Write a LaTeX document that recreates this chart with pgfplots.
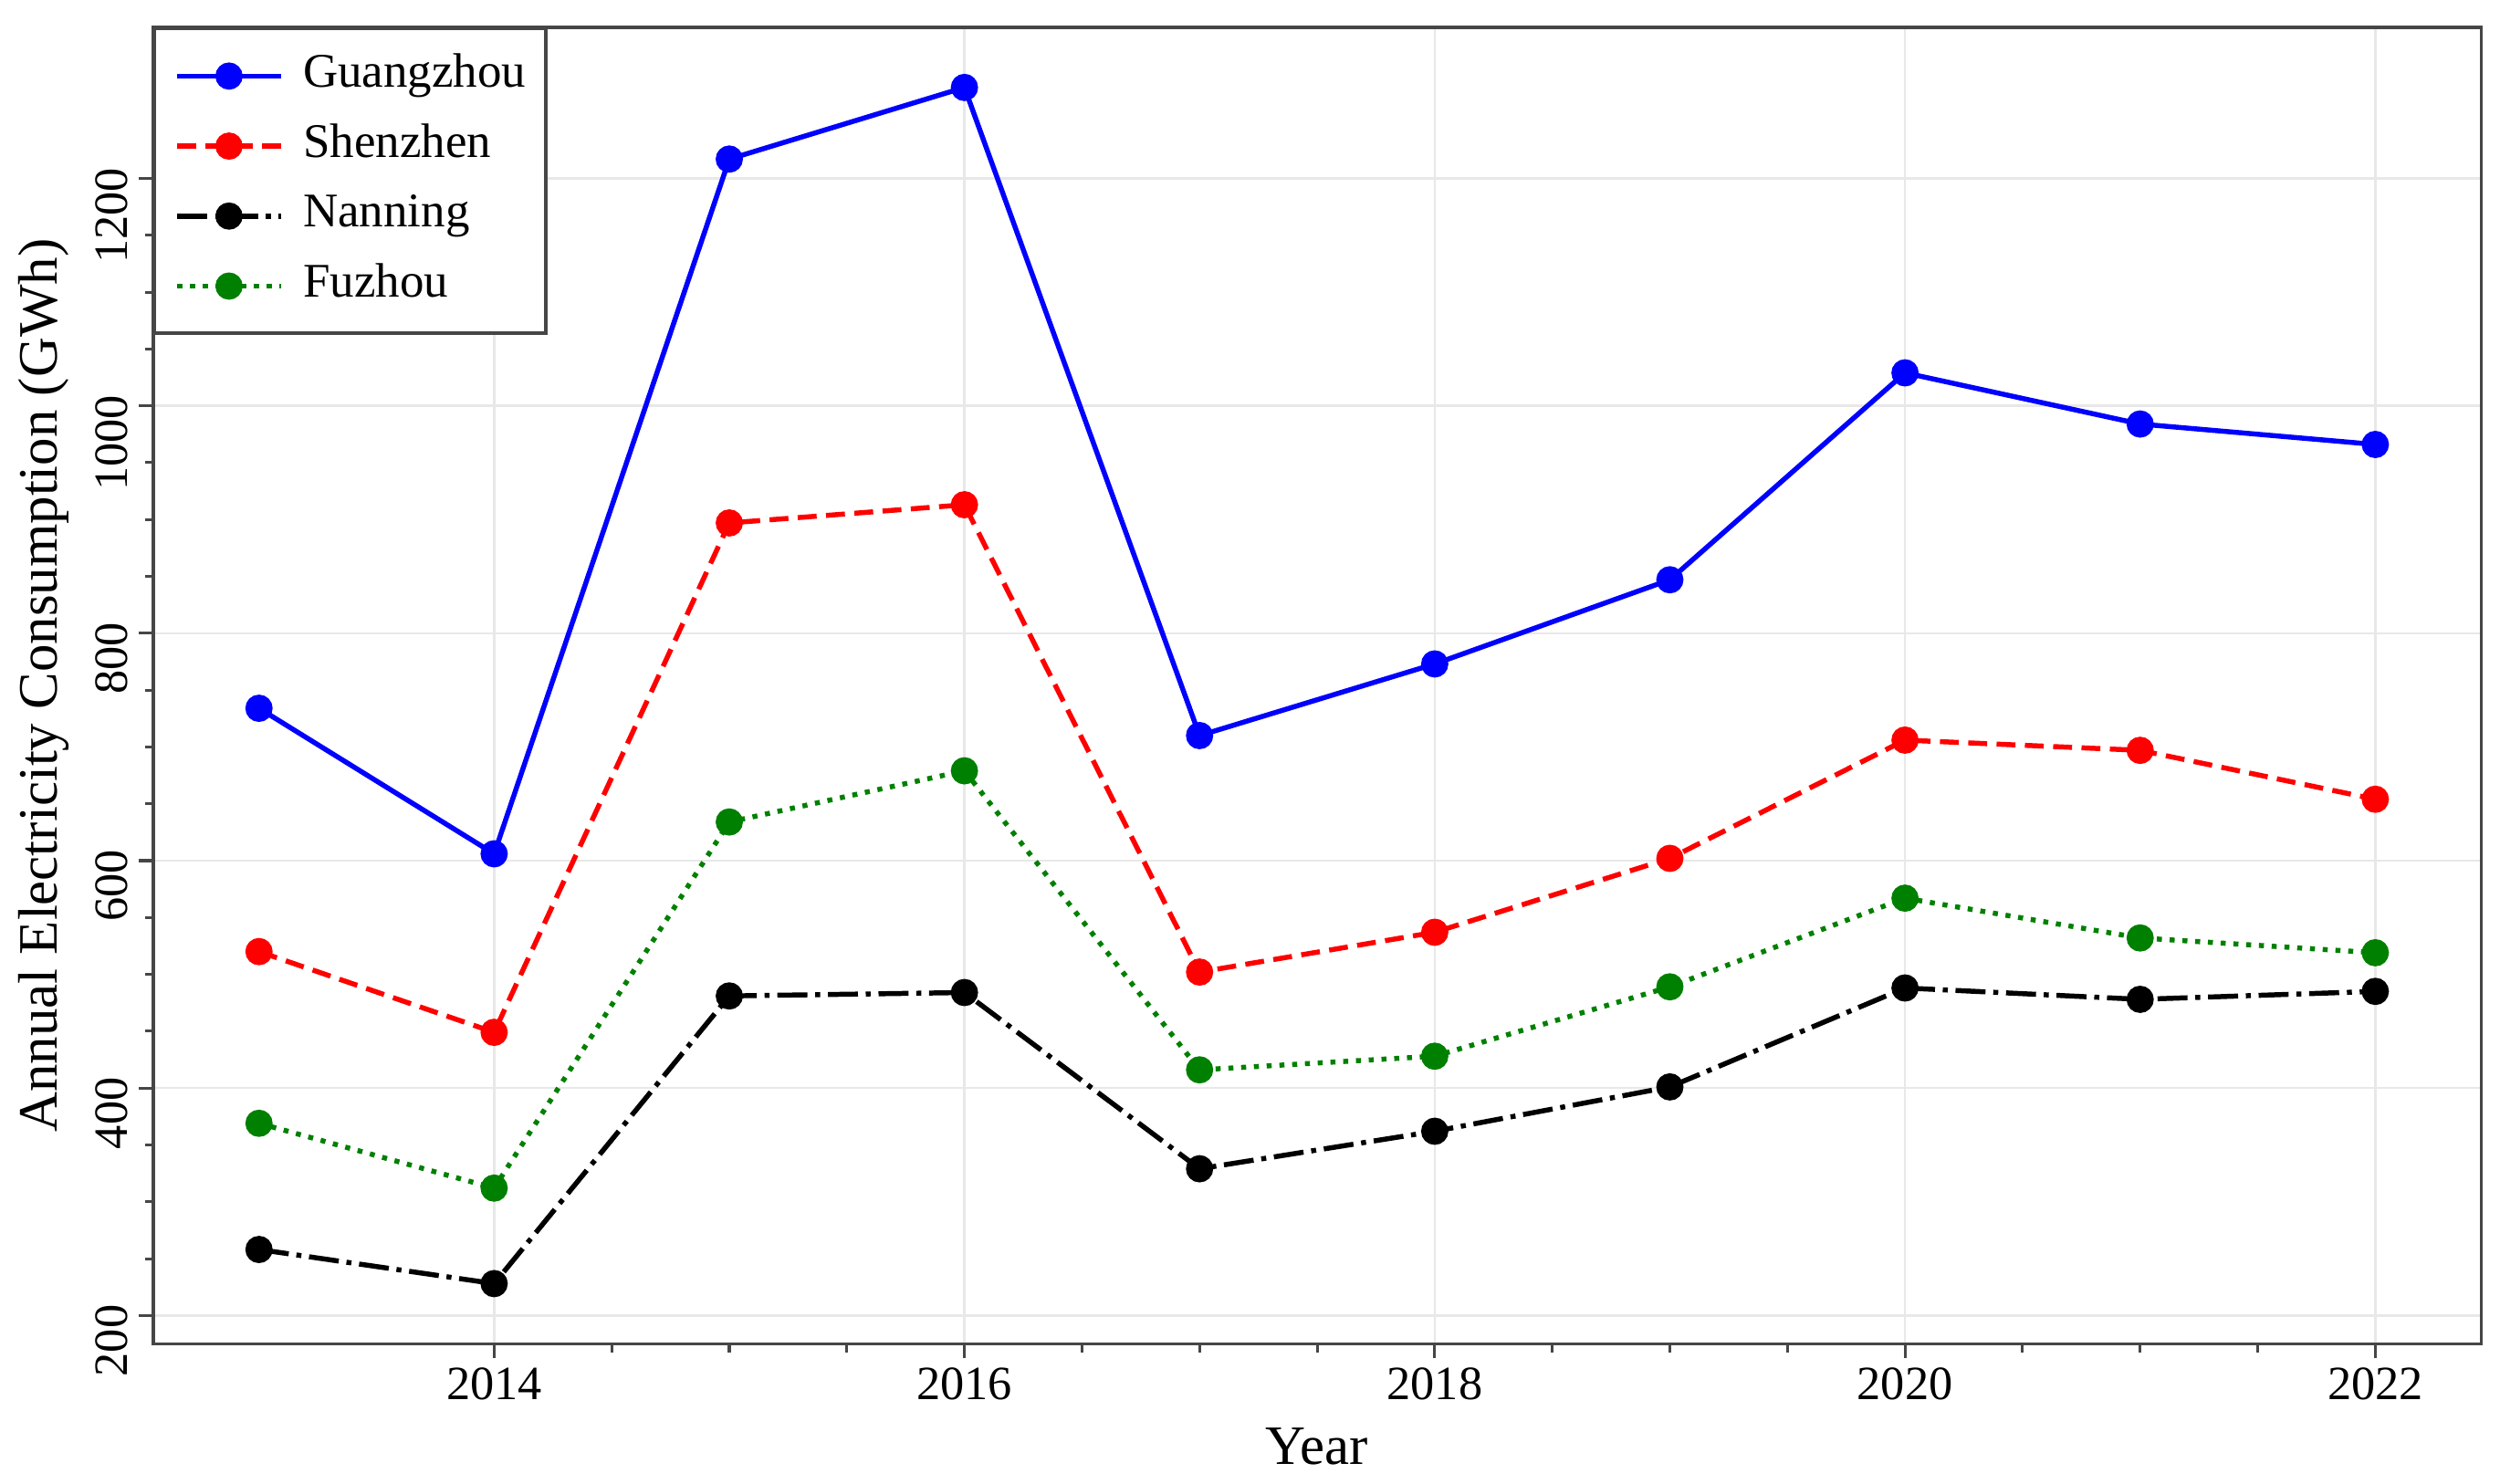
\documentclass[border=0pt]{standalone}
\usepackage{fontspec}
\setmainfont{Liberation Serif}
\usepackage{pgfplots}
\pgfplotsset{compat=1.18}
\definecolor{gz}{RGB}{0,0,255}
\definecolor{sz}{RGB}{255,0,0}
\definecolor{fz}{RGB}{0,128,0}
\definecolor{frame}{RGB}{70,70,70}
\definecolor{gridc}{RGB}{232,232,232}
\begin{document}
\begin{tikzpicture}
\begin{axis}[
    scale only axis,
    width=419pt, height=237pt,
    xmin=2012.55, xmax=2022.45,
    ymin=175, ymax=1333,
    xtick={2014,2016,2018,2020,2022},
    ytick={200,400,600,800,1000,1200},
    minor x tick num=3,
    minor y tick num=3,
    tick pos=left,
    tick align=outside,
    major tick length=2.6pt,
    minor tick length=1.5pt,
    every tick/.style={frame, line width=0.5pt},
    axis line style={frame, line width=0.6pt},
    grid=major,
    major grid style={gridc, line width=0.4pt},
    /pgf/number format/assume math mode=true,
    /pgf/number format/1000 sep={},
    ticklabel style={font=\fontsize{8.6}{10}\selectfont, inner sep=0pt},
    xticklabel style={anchor=north, yshift=-1.5pt},
    yticklabel style={rotate=90, anchor=south east, xshift=2.1pt, yshift=1.8pt},
    xlabel={Year},
    ylabel={Annual Electricity Consumption (GWh)},
    label style={font=\fontsize{10}{12}\selectfont},
    xlabel style={at={(axis description cs:0.5,-0.078)}, anchor=center},
    ylabel style={at={(axis description cs:-0.047,0.5)}, anchor=center, rotate=0},
    legend style={at={(0,1)}, anchor=north west, draw=frame, line width=0.6pt,
        font=\fontsize{8.7}{10}\selectfont, inner xsep=3.6pt, inner ysep=4pt,
        row sep=3.6pt, column sep=3.6pt,
        nodes={inner sep=0pt, text height=6.5pt, text depth=2.5pt}},
    legend cell align=left,
    legend image code/.code={%
        \draw[mark repeat=2, mark phase=2, #1] plot coordinates {(0pt,0pt) (9.3pt,0pt) (18.6pt,0pt)};},
    every axis plot/.append style={line width=0.9pt, mark=*, mark size=2.0pt},
]
% Guangzhou
\addplot[gz, solid, mark options={solid, fill=gz, draw=gz}] coordinates {
    (2013,734) (2014,606) (2015,1217) (2016,1280) (2017,710)
    (2018,773) (2019,847) (2020,1029) (2021,984) (2022,966)};
% Shenzhen
\addplot[sz, dash pattern=on 3.4pt off 1.7pt, mark options={solid, fill=sz, draw=sz}] coordinates {
    (2013,520) (2014,449) (2015,897) (2016,913) (2017,502)
    (2018,537) (2019,602) (2020,706) (2021,697) (2022,654)};
% Nanning
\addplot[black, dash pattern=on 5.4pt off 1.4pt on 0.9pt off 1.4pt, mark options={solid, fill=black, draw=black}] coordinates {
    (2013,258) (2014,228) (2015,481) (2016,484) (2017,329)
    (2018,362) (2019,401) (2020,488) (2021,478) (2022,485)};
% Fuzhou
\addplot[fz, dash pattern=on 0.9pt off 1.4pt, mark options={solid, fill=fz, draw=fz}] coordinates {
    (2013,369) (2014,312) (2015,634) (2016,679) (2017,416)
    (2018,428) (2019,489) (2020,567) (2021,532) (2022,519)};
\legend{Guangzhou, Shenzhen, Nanning, Fuzhou}
\end{axis}
\path (current axis.south west) ++(-27.4pt,-25.1pt) coordinate (bl);
\path (current axis.north east) ++(3.4pt,4.9pt) coordinate (tr);
\path (bl) rectangle (tr);
\end{tikzpicture}
\end{document}
